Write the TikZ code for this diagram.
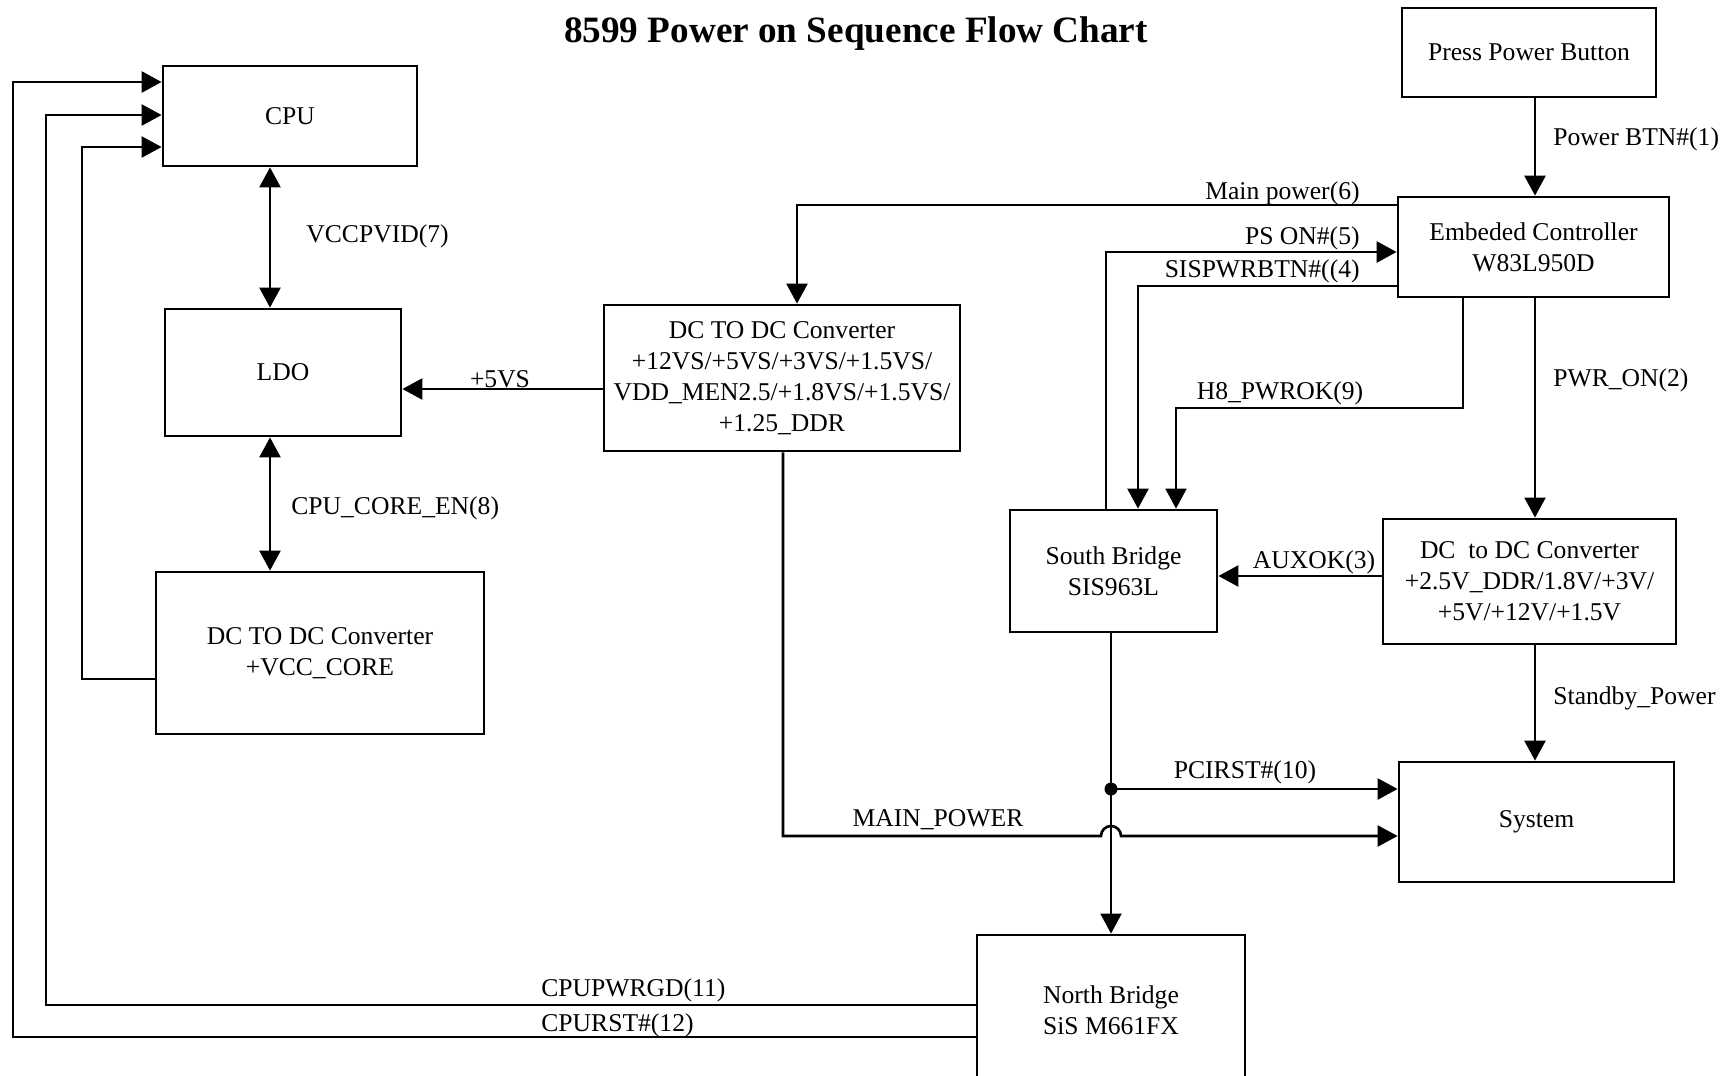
\documentclass[tikz,border=0pt]{standalone}
\usepackage{fontspec}
\setmainfont{Liberation Serif}
\usetikzlibrary{arrows.meta}
\begin{document}
\begin{tikzpicture}[x=0.5pt,y=-0.5pt,
  font=\fontsize{12.8pt}{15.5pt}\selectfont,
  box/.style={draw, line width=1.4pt, align=center, inner sep=0pt},
  tip/.tip={Triangle[length=10pt,width=10.5pt]},
  arr/.style={line width=1.3pt, -tip},
  darr/.style={line width=1.3pt, tip-tip},
  lbl/.style={inner sep=0pt}]
\useasboundingbox (0,0) rectangle (1731,1076);
\clip (0,0) rectangle (1731,1076);

% title
\node[font=\bfseries\fontsize{18.6pt}{22pt}\selectfont] (title) at (856,34) {8599 Power on Sequence Flow Chart};

% boxes
\node[box, minimum width=127pt, minimum height=44.5pt] (PPB) at (1529,52.5) {Press Power Button};
\node[box, minimum width=127pt, minimum height=50pt] (CPU) at (290,116) {CPU};
\node[box, minimum width=118pt, minimum height=63.5pt] (LDO) at (283,372.5) {LDO};
\node[box, minimum width=164pt, minimum height=81pt] (VCC) at (320,653) {DC TO DC Converter\\+VCC\_CORE};
\node[box, minimum width=178pt, minimum height=73pt] (DCM) at (782,378) {DC TO DC Converter\\+12VS/+5VS/+3VS/+1.5VS/\\VDD\_MEN2.5/+1.8VS/+1.5VS/\\+1.25\_DDR};
\node[box, minimum width=135.5pt, minimum height=50pt] (EC) at (1533.5,247) {Embeded Controller\\W83L950D};
\node[box, minimum width=103.5pt, minimum height=61pt] (SB) at (1113.5,571) {South Bridge\\SIS963L};
\node[box, minimum width=146.5pt, minimum height=62.5pt] (DCR) at (1529.5,581.5) {DC\ \ to DC Converter\\+2.5V\_DDR/1.8V/+3V/\\+5V/+12V/+1.5V};
\node[box, minimum width=137.5pt, minimum height=60pt] (SYS) at (1536.5,822) {System};
\node[box, minimum width=134pt, minimum height=75pt] (NB) at (1111,1010) {North Bridge\\SiS M661FX};

% junction dot
\node[circle, fill, inner sep=0pt, minimum size=6.5pt] (J) at (1111,789) {};

% connectors
\draw[arr] (PPB.south -| 1535,0) -- (EC.north -| 1535,0);
\draw[arr] (EC.west |- 0,205) -| (DCM.north -| 797,0);
\draw[arr] (SB.north -| 1106,0) |- (EC.west |- 0,252);
\draw[arr] (EC.west |- 0,286) -| (SB.north -| 1138,0);
\draw[arr, line width=1pt] (EC.south -| 1463,0) |- (1176,408) -- (SB.north -| 1176,0);
\draw[arr, line width=1pt] (EC.south -| 1535,0) -- (DCR.north -| 1535,0);
\draw[arr] (DCR.west |- 0,576) -- (SB.east |- 0,576);
\draw[arr] (DCR.south -| 1535,0) -- (SYS.north -| 1535,0);
\draw[arr, line width=1pt] (SB.south -| 1111,0) -- (NB.north -| 1111,0);
\draw[arr] (J.center) -- (SYS.west |- 0,789);
\draw[arr] (DCM.south -| 783,0) |- (1101,836) arc(180:360:10) -- (SYS.west |- 0,836);
\draw[arr] (DCM.west |- 0,389) -- (LDO.east |- 0,389);
\draw[darr] (CPU.south -| 270,0) -- (LDO.north -| 270,0);
\draw[darr] (LDO.south -| 270,0) -- (VCC.north -| 270,0);
\draw[arr] (VCC.west |- 0,679) -| (82,147) -- (CPU.west |- 0,147);
\draw[arr] (NB.west |- 0,1005) -| (46,115) -- (CPU.west |- 0,115);
\draw[arr] (NB.west |- 0,1037) -| (13,82) -- (CPU.west |- 0,82);

% labels
\node[lbl, anchor=west] (l1) at (1553,139) {Power BTN\#(1)};
\node[lbl, anchor=east] (l6) at (1360,193) {Main power(6)};
\node[lbl, anchor=east] (l5) at (1360,238) {PS ON\#(5)};
\node[lbl, anchor=east] (l4) at (1360,271) {SISPWRBTN\#((4)};
\node[lbl] (l9) at (1280,393) {H8\_PWROK(9)};
\node[lbl, anchor=west] (l2) at (1553,380) {PWR\_ON(2)};
\node[lbl] (l3) at (1314,562) {AUXOK(3)};
\node[lbl, anchor=west] (lsb) at (1553,698) {Standby\_Power};
\node[lbl] (l10) at (1245,772) {PCIRST\#(10)};
\node[lbl] (lmp) at (938,820) {MAIN\_POWER};
\node[lbl] (l5vs) at (500,379) {+5VS};
\node[lbl, anchor=west] (l7) at (306,236) {VCCPVID(7)};
\node[lbl, anchor=west] (l8) at (291,508) {CPU\_CORE\_EN(8)};
\node[lbl, anchor=west] (l11) at (541,990) {CPUPWRGD(11)};
\node[lbl, anchor=west] (l12) at (541,1025) {CPURST\#(12)};
\end{tikzpicture}
\end{document}
